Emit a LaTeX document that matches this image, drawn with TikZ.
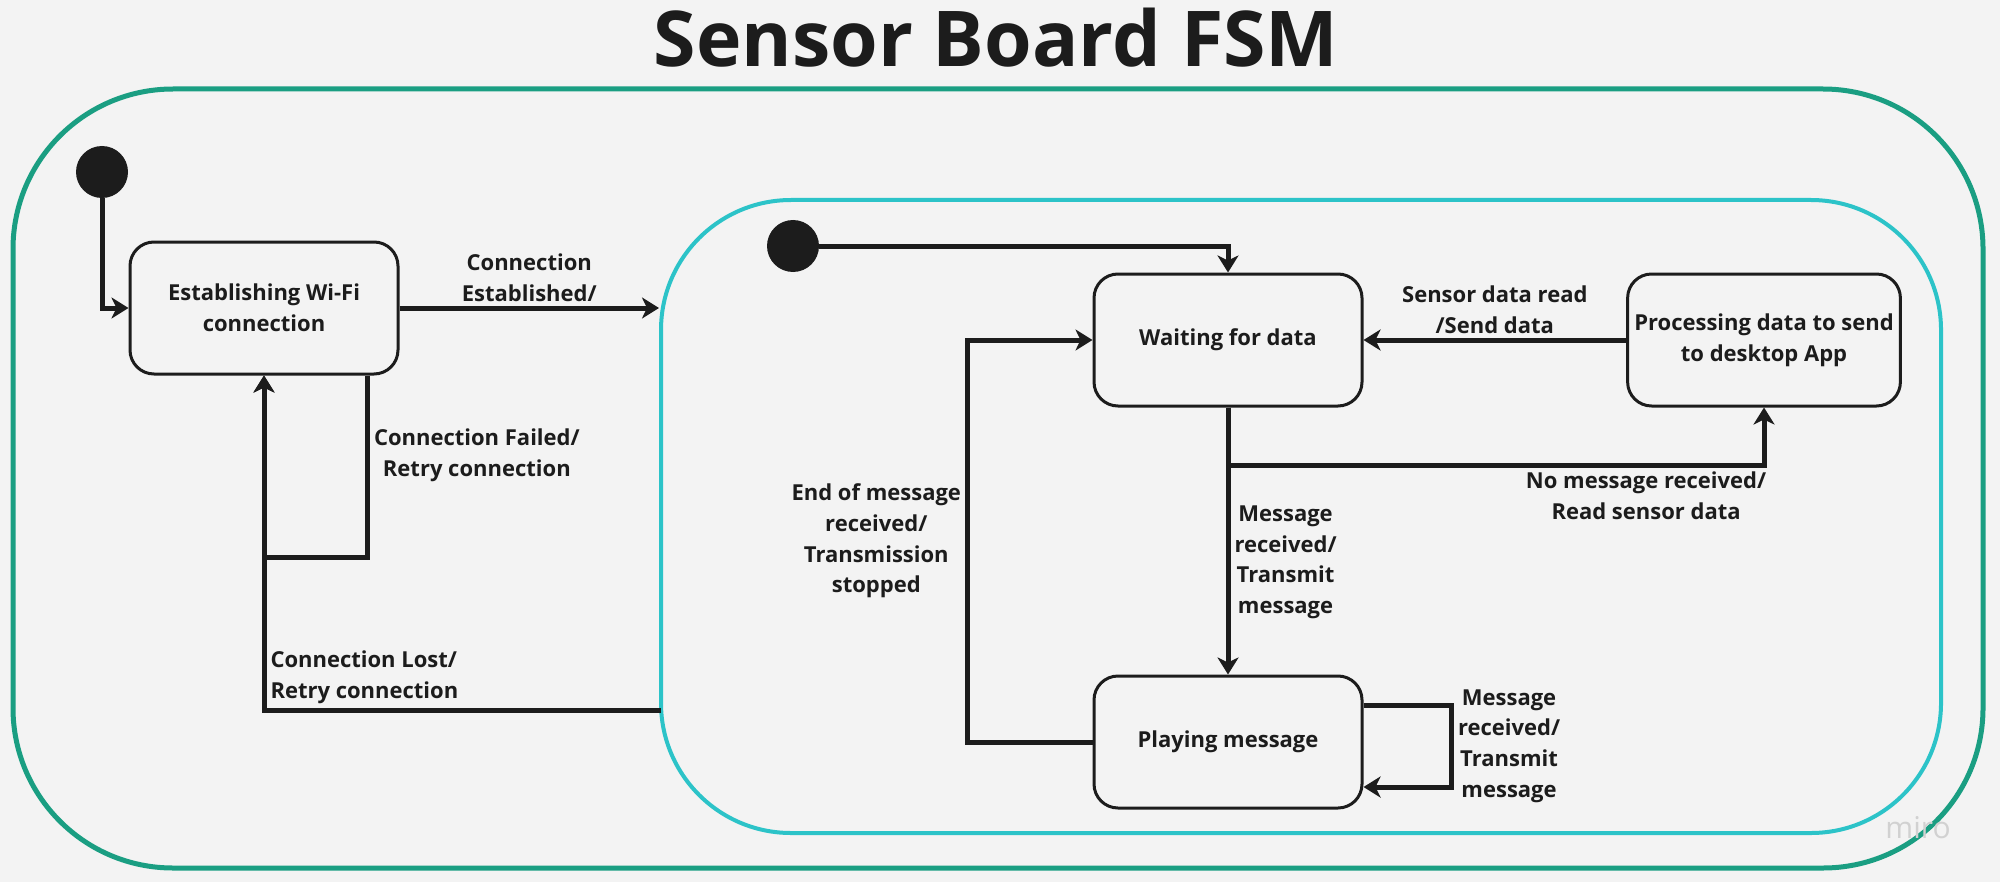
\documentclass[tikz,border=0pt]{standalone}
\usepackage{fontspec}
\setmainfont{Open Sans}
\usepackage{tikz}
\usetikzlibrary{positioning,arrows.meta}
\definecolor{boardgreen}{HTML}{1A9E82}
\definecolor{wificyan}{HTML}{2CC3C8}
\definecolor{paper}{HTML}{F3F3F3}
\definecolor{ink}{HTML}{1C1C1C}
\tikzset{node distance=268pt, >={Stealth[length=8.5pt,width=10.5pt,inset=2.5pt]},
  state/.style={draw=ink, line width=1.5pt, rounded corners=12pt, minimum width=134pt,
    minimum height=66pt, align=center, text=ink, font=\bfseries\fontsize{11}{15.3}\selectfont},
  startdot/.style={circle, fill=ink, minimum size=26pt, inner sep=0pt},
  trans/.style={text=ink, align=center, inner sep=2pt, font=\bfseries\fontsize{11}{15.3}\selectfont},
  link/.style={draw=ink, line width=2.5pt}}

\begin{document}
\begin{tikzpicture}[x=0.5pt, y=-0.5pt]

           \fill[paper] (0,0) rectangle (2000,882);
           \useasboundingbox (0,0) rectangle (2000,882);

           \node (title) [anchor=base, text=ink, font=\bfseries\fontsize{38.5}{46}\selectfont] at (996,67) {Sensor Board FSM};
           \node (board) [draw=boardgreen, line width=2.5pt, rounded corners=80pt, minimum width=985pt, minimum height=389.5pt] at (998,478.5) {};
           \node (online) [draw=wificyan, line width=2pt, rounded corners=65pt, minimum width=640pt, minimum height=316.5pt] at (1301,516.5) {};
           \node (miro) [text=black!18, font=\fontsize{15}{15}\selectfont] at (1918,828) {miro};

           \node (start) [startdot] at (102,172) {};
           \node (establish) [state] at (264,308) {Establishing Wi-Fi\\connection};
           \node (start2) [startdot] at (793,246) {};
           \node (waiting) [state] at (1228,340) {Waiting for data};
           \node (processing) [state, right of=waiting] {Processing data to send\\to desktop App};
           \node (playing) [state, below of=waiting, node distance=201pt] {Playing message};
           \coordinate (retry) at (264,557);
           \coordinate (lost) at (661,710);

           \draw[->, link] (start) |- (establish);
           \draw[->, link] (establish) -- node[trans, above] {Connection\\Established/} (establish -| online.west);
           \draw[->, link] ([xshift=-16pt]establish.south east) |- node[trans, right, pos=0.22] {Connection Failed/\\Retry connection} (retry) -- (establish.south);
           \draw[->, link] (lost) -| node[trans, above right, align=left, pos=0.5] {Connection Lost/\\Retry connection} (establish.south);
           \draw[->, link] (start2) -| (waiting.north);
           \draw[->, link] (processing) -- node[trans, above] {Sensor data read\\/Send data} (waiting);
           \draw[->, link] (waiting.south) -- ++(0,58) -| node[trans, below, pos=0.39] {No message received/\\Read sensor data} (processing.south);
           \draw[->, link] (waiting) -- node[trans, right, pos=0.58] {Message\\received/\\Transmit\\message} (playing);
           \draw[->, link] (playing.west) -- ++(-125,0) |- node[trans, left, pos=0.25] {End of message\\received/\\Transmission\\stopped} (waiting);
           \draw[->, link] ([yshift=18.5pt]playing.east) -- ++(88,0) |- node[trans, right, pos=0.25] {Message\\received/\\Transmit\\message} ([yshift=-22.5pt]playing.east);

         \end{tikzpicture}
\end{document}
